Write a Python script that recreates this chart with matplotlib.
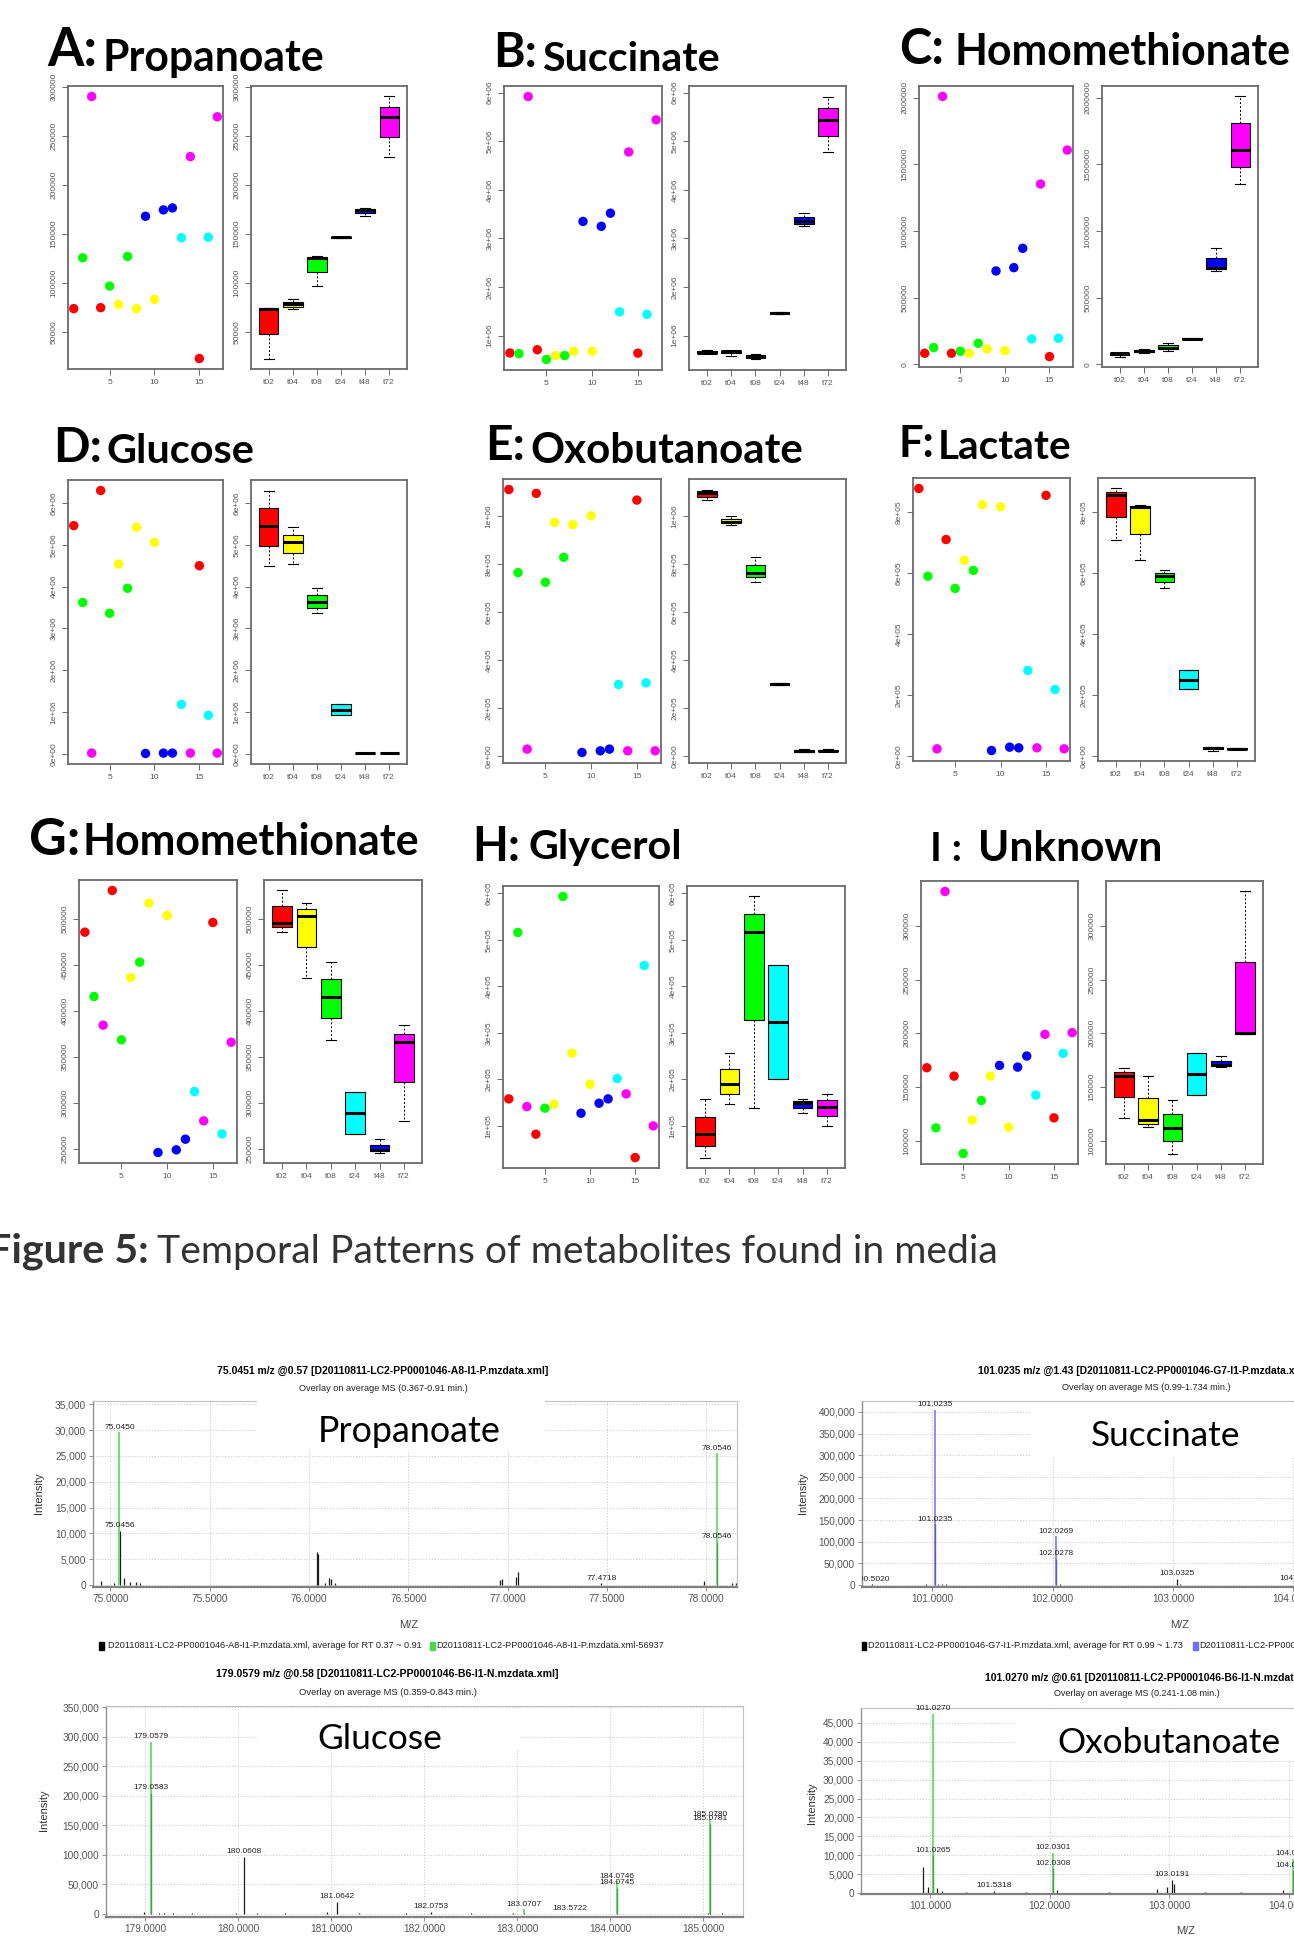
import numpy as np
import matplotlib.pyplot as plt
from matplotlib.patches import Rectangle
from matplotlib.ticker import MultipleLocator, FuncFormatter

W, H = 1294, 1944

plt.rcParams['font.family'] = ['Liberation Sans', 'DejaVu Sans']
TITLE_FONT = ['Lato', 'DejaVu Sans']

# ---------------- temporal pattern panels ----------------
groups = ["t02", "t04", "t08", "t24", "t48", "t72"]
group_colors = ["#FF0000", "#FFFF00", "#00FF00", "#00FFFF", "#0000FF", "#FF00FF"]
# time group of each of the 17 samples (index into groups)
sample_group = [0, 2, 5, 0, 2, 1, 2, 1, 4, 1, 4, 4, 3, 5, 0, 3, 5]
sample_index = list(range(1, 18))

panel_letters = ["A:", "B:", "C:", "D:", "E:", "F:", "G:", "H:", "I :"]
panel_names = ["Propanoate", "Succinate", "Homomethionate", "Glucose", "Oxobutanoate",
               "Lactate", "Homomethionate", "Glycerol", "Unknown"]

propanoate = [73500, 125500, 290500, 74500, 96600, 77900, 126900, 73500, 168000,
              83000, 174500, 176500, 146000, 229000, 22500, 146600, 269700]
succinate = [0.644e6, 0.63e6, 5.92e6, 0.71e6, 0.51e6, 0.59e6, 0.59e6, 0.68e6, 3.35e6,
             0.68e6, 3.25e6, 3.52e6, 1.49e6, 4.78e6, 0.64e6, 1.44e6, 5.44e6]
homomethionate_c = [82500, 125000, 2010000, 82500, 97500, 82500, 157500, 115000, 700000,
                    102500, 725000, 870000, 190000, 1352500, 57500, 195000, 1607500]
glucose = [5.46e6, 3.62e6, 0.015e6, 6.30e6, 3.36e6, 4.54e6, 3.96e6, 5.42e6, 0.005e6,
           5.06e6, 0.015e6, 0.015e6, 1.18e6, 0.015e6, 4.50e6, 0.92e6, 0.015e6]
oxobutanoate = [1.109e6, 0.763e6, 0.028e6, 1.093e6, 0.723e6, 0.972e6, 0.827e6, 0.963e6, 0.014e6,
                1.0e6, 0.021e6, 0.028e6, 0.297e6, 0.021e6, 1.065e6, 0.304e6, 0.021e6]
lactate = [876000, 589000, 24000, 709000, 549000, 641000, 608000, 823000, 18500,
           816000, 29500, 27300, 280500, 27300, 853500, 218300, 24000]
homomethionate_g = [485500, 415700, 384600, 530750, 368700, 436300, 452970, 517000, 246400,
                    503600, 249300, 260850, 312600, 280750, 496000, 266650, 366100]
glycerol = [158000, 515500, 141500, 82100, 138000, 146600, 592800, 256200, 127200,
            189500, 148700, 158000, 201700, 168800, 32000, 444600, 100000]
unknown = [167800, 111800, 332000, 160000, 87900, 119000, 137300, 160000, 170000,
           112400, 168400, 178700, 142300, 198900, 121150, 181200, 200500]

panel_values = [propanoate, succinate, homomethionate_c, glucose, oxobutanoate,
                lactate, homomethionate_g, glycerol, unknown]
tick_steps = [50000, 1e6, 5e5, 1e6, 2e5, 2e5, 50000, 1e5, 50000]
sci_labels = [False, True, False, True, True, True, False, True, False]

# pixel layout (x0, y0, x1, y1)
scatter_boxes = [(68, 86, 223, 369), (504, 86, 662, 370), (919, 86, 1073, 367),
                 (68, 480, 223, 764), (503, 479, 661, 763), (913, 478, 1070, 761),
                 (79, 880, 237, 1163), (503, 886, 659, 1168), (921, 881, 1078, 1164)]
box_boxes = [(251, 86, 407, 369), (689, 86, 846, 370), (1102, 86, 1258, 367),
             (251, 480, 407, 764), (689, 479, 846, 763), (1098, 478, 1255, 761),
             (264, 880, 422, 1163), (687, 886, 845, 1168), (1106, 881, 1263, 1164)]
letter_pos = [(47, 97, 66), (493, 537, 67), (899, 944, 64), (53, 102, 462), (485, 525, 460),
              (899, 935, 457), (29, 80, 855), (472, 520, 861), (930, 962, 861)]
name_pos = [(103, 325, 71), (542, 720, 71), (955, 1292, 65), (106, 254, 463), (530, 803, 463),
            (938, 1072, 459), (83, 421, 855), (528, 682, 859), (978, 1162, 861)]

# ---------------- mass spectra ----------------
prop_avg_mz = [74.95, 75.02, 75.0456, 75.07, 75.10, 75.13, 75.15, 76.040, 76.045, 76.08, 76.10,
               76.11, 76.13, 76.96, 76.97, 77.040, 77.050, 77.4718, 77.99, 78.0546, 78.13, 78.15, 78.17]
prop_avg_int = [800, 300, 10500, 1400, 500, 500, 300, 6400, 6000, 400, 1400,
                1200, 300, 1000, 1200, 1500, 2500, 300, 800, 8400, 300, 300, 200]
prop_eic_mz = [75.0450, 78.0546]
prop_eic_int = [29600, 25500]
prop_lab_mz = [75.0450, 75.0456, 77.4718, 78.0546, 78.0546]
prop_lab_int = [29600, 10500, 300, 25500, 8400]

succ_avg_mz = [100.502, 100.95, 101.0235, 101.05, 101.08, 101.12, 101.3, 101.6, 101.9, 102.0278,
               102.06, 102.15, 102.5, 102.95, 103.0325, 103.06, 103.5, 103.95, 104.0312]
succ_avg_int = [1500, 1200, 140000, 3000, 1500, 2000, 800, 800, 800, 60000,
                3000, 1000, 800, 1000, 13800, 1500, 800, 1000, 3000]
succ_eic_mz = [101.0235, 102.0269]
succ_eic_int = [404600, 112300]
succ_lab_mz = [100.5020, 101.0235, 101.0235, 102.0269, 102.0278, 103.0325, 104.0312]
succ_lab_int = [1500, 404600, 140000, 112300, 60000, 13800, 3000]

gluc_avg_mz = [178.98, 179.0583, 179.15, 179.20, 179.30, 179.50, 179.98, 180.0608, 180.20, 180.50,
               180.95, 181.0642, 181.30, 181.80, 182.0753, 182.50, 182.95, 183.0707, 183.5722,
               184.0745, 184.50, 185.05, 185.0781, 185.20]
gluc_avg_int = [3000, 205000, 1500, 2500, 1500, 1000, 1500, 96900, 1500, 1000,
                3000, 20800, 1500, 1000, 3500, 1000, 1500, 2000, 800,
                44000, 800, 2500, 152000, 1500]
gluc_eic_mz = [179.0579, 183.0707, 184.0746, 185.0780]
gluc_eic_int = [291400, 8000, 55000, 160000]
gluc_lab_mz = [179.0579, 179.0583, 180.0608, 181.0642, 182.0753, 183.0707, 183.5722,
               184.0746, 184.0745, 185.0780, 185.0781]
gluc_lab_int = [291400, 205000, 96900, 20800, 3500, 8000, 800, 55000, 44000, 160000, 152000]

oxo_avg_mz = [100.94, 100.98, 101.0265, 101.06, 101.10, 101.30, 101.5318, 101.80, 102.0308, 102.06,
              102.50, 102.90, 102.98, 103.0191, 103.04, 103.30, 103.60, 103.95, 104.0341]
oxo_avg_int = [7000, 1500, 10000, 1200, 600, 300, 500, 300, 6500, 800,
               300, 1000, 1500, 3400, 2500, 300, 300, 800, 6000]
oxo_eic_mz = [101.0270, 102.0301, 104.0337]
oxo_eic_int = [47400, 10600, 9000]
oxo_lab_mz = [101.0270, 101.0265, 101.5318, 102.0301, 102.0308, 103.0191, 104.0337, 104.0341]
oxo_lab_int = [47400, 10000, 500, 10600, 6500, 3400, 9000, 6000]

spec_names = ["Propanoate", "Succinate", "Glucose", "Oxobutanoate"]
spec_titles = ["75.0451 m/z @0.57 [D20110811-LC2-PP0001046-A8-I1-P.mzdata.xml]",
               "101.0235 m/z @1.43 [D20110811-LC2-PP0001046-G7-I1-P.mzdata.xml]",
               "179.0579 m/z @0.58 [D20110811-LC2-PP0001046-B6-I1-N.mzdata.xml]",
               "101.0270 m/z @0.61 [D20110811-LC2-PP0001046-B6-I1-N.mzdata.xml]"]
spec_subtitles = ["Overlay on average MS (0.367-0.91 min.)", "Overlay on average MS (0.99-1.734 min.)",
                  "Overlay on average MS (0.359-0.843 min.)", "Overlay on average MS (0.241-1.08 min.)"]
spec_colors = ["#4cd44c", "#6f6ff5", "#4cd44c", "#4cd44c"]

spec_rects = [(93, 1401, 737, 1587), (862, 1401, 1340, 1587), (106, 1706, 743, 1917), (861, 1708, 1340, 1894)]
spec_xlims = [(74.912, 78.155), (100.419, 104.386), (178.576, 185.43), (100.424, 104.426)]
spec_ylims = [(-390, 35650), (-4600, 425400), (-5070, 351700), (-265, 48970)]
spec_xstep = [0.5, 1, 1, 1]
spec_ystep = [5000, 50000, 50000, 5000]


fig = plt.figure(figsize=(W / 100, H / 100), dpi=100)
renderer = fig.canvas.get_renderer()


def rect(x0, y0, x1, y1):
    return [x0 / W, 1 - y1 / H, (x1 - x0) / W, (y1 - y0) / H]


def fit_text(s, x0, x1, y, fit=None, va="baseline", **kw):
    # put text at pixel position and scale it so it spans x0..x1
    t = fig.text(x0 / W, 1 - y / H, fit or s, ha="left", va=va, **kw)
    w = t.get_window_extent(renderer).width
    t.set_fontsize(t.get_fontsize() * (x1 - x0) / w)
    t.set_text(s)
    return t


def box_stats(vals):
    # Tukey five numbers like R's boxplot
    v = np.sort(np.asarray(vals, float))
    n = len(v)
    n4 = np.floor((n + 3) / 2) / 2
    d = np.array([1, n4, (n + 1) / 2, n + 1 - n4, n]) - 1
    q = 0.5 * (v[np.floor(d).astype(int)] + v[np.ceil(d).astype(int)])
    iqr = q[3] - q[1]
    inside = v[(v >= q[1] - 1.5 * iqr) & (v <= q[3] + 1.5 * iqr)]
    out = v[(v < q[1] - 1.5 * iqr) | (v > q[3] + 1.5 * iqr)]
    return dict(med=q[2], q1=q[1], q3=q[3], whislo=inside.min(), whishi=inside.max(), fliers=out)


def style_r_axes(ax, sci):
    for s in ax.spines.values():
        s.set_color("#6a6a6a")
        s.set_linewidth(1.3)
    ax.tick_params(direction="out", length=4.5, width=0.7, color="#6a6a6a",
                   labelsize=6, labelcolor="#555555", pad=3)
    ax.tick_params(axis="y", labelrotation=90)
    ax.yaxis.set_major_formatter(FuncFormatter(
        lambda v, p: f"{v:.0e}" if sci else f"{v:.0f}"))


def r_panel(k):
    vals = np.asarray(panel_values[k], float)
    lo, hi = vals.min(), vals.max()
    pad = 0.04 * (hi - lo)
    grp = np.array(sample_group)

    ax1 = fig.add_axes(rect(*scatter_boxes[k]))
    ax1.scatter(sample_index, vals, c=[group_colors[g] for g in sample_group],
                s=46, linewidths=0, zorder=3)
    ax1.set_xlim(1 - 0.64, 17 + 0.64)
    ax1.set_xticks([5, 10, 15])

    ax2 = fig.add_axes(rect(*box_boxes[k]))
    stats = [box_stats(vals[grp == g]) for g in range(len(groups))]
    bp = ax2.bxp(stats, positions=range(1, 7), widths=0.8, capwidths=0.4,
                 patch_artist=True, manage_ticks=False,
                 boxprops=dict(edgecolor="black", linewidth=0.8),
                 medianprops=dict(color="black", linewidth=2.2, solid_capstyle="butt"),
                 whiskerprops=dict(color="black", linewidth=0.7, linestyle=(0, (2, 2))),
                 capprops=dict(color="black", linewidth=0.8))
    for patch, col in zip(bp["boxes"], group_colors):
        patch.set_facecolor(col)
    ax2.set_xlim(0.26, 6.74)
    ax2.set_xticks(range(1, 7))
    ax2.set_xticklabels(groups)

    for ax in (ax1, ax2):
        ax.set_ylim(lo - pad, hi + pad)
        ax.yaxis.set_major_locator(MultipleLocator(tick_steps[k]))
        style_r_axes(ax, sci_labels[k])
        plt.setp(ax.get_yticklabels(), va="center")

    x0, x1, yb = letter_pos[k]
    fit_text(panel_letters[k], x0, x1, yb, family=TITLE_FONT, fontweight="bold", fontsize=30)
    x0, x1, yb = name_pos[k]
    fit_text(panel_names[k], x0, x1, yb, family=TITLE_FONT, fontweight="bold", fontsize=24)


for k in range(9):
    r_panel(k)

# figure caption
fit_text("Figure 5:", -12, 149, 1263, family=TITLE_FONT, fontweight="bold", fontsize=24, color="#333333")
fit_text("Temporal Patterns of metabolites found in media", 157, 999, 1263,
         family=TITLE_FONT, fontsize=24, color="#333333")


def spectrum(k, avg_mz, avg_int, eic_mz, eic_int, lab_mz, lab_int):
    ax = fig.add_axes(rect(*spec_rects[k]))
    ax.vlines(avg_mz, 0, avg_int, color="#1a1a1a", linewidth=0.9, zorder=2)
    ax.vlines(eic_mz, 0, eic_int, color=spec_colors[k], linewidth=1.1, zorder=2.2)
    for m, v in zip(lab_mz, lab_int):
        ax.annotate(f"{m:.4f}", (m, v), xytext=(0, 1.2), textcoords="offset points",
                    ha="center", va="bottom", fontsize=6, color="#222222",
                    clip_on=(k == 1), zorder=3)
    ax.set_xlim(spec_xlims[k])
    ax.set_ylim(spec_ylims[k])
    ax.xaxis.set_major_locator(MultipleLocator(spec_xstep[k]))
    ax.yaxis.set_major_locator(MultipleLocator(spec_ystep[k]))
    ax.xaxis.set_major_formatter(FuncFormatter(lambda v, p: f"{v:.4f}"))
    ax.yaxis.set_major_formatter(FuncFormatter(lambda v, p: f"{v:,.0f}"))
    ax.grid(True, linestyle=(0, (1.5, 2)), color="#c8c8c8", linewidth=0.6, zorder=0.5)
    for side in ("top", "right"):
        ax.spines[side].set_color("#c0c0c0")
        ax.spines[side].set_linewidth(0.8)
    ax.spines["left"].set_color("#909090")
    ax.spines["left"].set_linewidth(1.0)
    ax.spines["bottom"].set_color("#808080")
    ax.spines["bottom"].set_linewidth(1.6)
    ax.tick_params(direction="out", length=3, width=0.6, color="#808080",
                   labelsize=7.3, labelcolor="#555555", pad=2)
    return ax


ax_s1 = spectrum(0, prop_avg_mz, prop_avg_int, prop_eic_mz, prop_eic_int, prop_lab_mz, prop_lab_int)
ax_s2 = spectrum(1, succ_avg_mz, succ_avg_int, succ_eic_mz, succ_eic_int, succ_lab_mz, succ_lab_int)
ax_s3 = spectrum(2, gluc_avg_mz, gluc_avg_int, gluc_eic_mz, gluc_eic_int, gluc_lab_mz, gluc_lab_int)
ax_s4 = spectrum(3, oxo_avg_mz, oxo_avg_int, oxo_eic_mz, oxo_eic_int, oxo_lab_mz, oxo_lab_int)

# white boxes behind the metabolite names
white_boxes = [(257, 1396, 545, 1450), (1031, 1403, 1340, 1457), (257, 1708, 521, 1750), (1015, 1710, 1340, 1760)]
for ax, (x0, y0, x1, y1) in zip([ax_s1, ax_s2, ax_s3, ax_s4], white_boxes):
    ax.add_patch(Rectangle((x0 / W, 1 - y1 / H), (x1 - x0) / W, (y1 - y0) / H,
                           transform=fig.transFigure, facecolor="white", edgecolor="none",
                           zorder=4, clip_on=False))

name_spans = [(318, 501, 1442), (1091, 1241, 1446), (317, 442, 1749), (1057, 1280, 1753)]
for s, (x0, x1, yb) in zip(spec_names, name_spans):
    t = fit_text(s, x0, x1, yb, family=TITLE_FONT, fontsize=20, color="black")
    t.set_zorder(6)

# titles and subtitles of the spectra
title_spans = [(217, 553, 1371, None), (978, 1293, 1371, spec_titles[1][:58]),
               (216, 565, 1674, None), (985, 1294, 1678, spec_titles[3][:56])]
sub_spans = [(299, 470, 1388), (1062, 1233, 1387), (299, 480, 1692), (1054, 1222, 1694)]
for k in range(4):
    x0, x1, yc, fit = title_spans[k]
    fit_text(spec_titles[k], x0, x1, yc, fit=fit, va="center", fontweight="bold", fontsize=6)
    x0, x1, yc = sub_spans[k]
    fit_text(spec_subtitles[k], x0, x1, yc, va="center", fontsize=5, color="#222222")

# axis labels
for x, y in [(39, 1493), (44, 1810), (803, 1493), (812, 1803)]:
    fig.text(x / W, 1 - y / H, "Intensity", rotation=90, ha="center", va="center",
             fontsize=8, color="#333333")
for x, y in [(409, 1625), (1180, 1625), (1186, 1931)]:
    fig.text(x / W, 1 - y / H, "M/Z", ha="center", va="center", fontsize=8, color="#444444")

# legend rows under the top spectra
legend_rows = [
    (99, 108, 425, "D20110811-LC2-PP0001046-A8-I1-P.mzdata.xml, average for RT 0.37 ~ 0.91",
     430, 436, "D20110811-LC2-PP0001046-A8-I1-P.mzdata.xml-56937", spec_colors[0]),
    (862, 868, 1186, "D20110811-LC2-PP0001046-G7-I1-P.mzdata.xml, average for RT 0.99 ~ 1.73",
     1193, 1199, "D20110811-LC2-PP0001046-G7-I1-P.mzdata.xml-55846", spec_colors[1]),
]
for sq1, t0, t1, s1, sq2, t2, s2, col in legend_rows:
    yc = 1646
    fig.patches.append(Rectangle((sq1 / W, 1 - 1650 / H), 4.5 / W, 8 / H, color="black",
                                 transform=fig.transFigure, figure=fig))
    fig.patches.append(Rectangle((sq2 / W, 1 - 1650 / H), 4.5 / W, 8 / H, color=col,
                                 transform=fig.transFigure, figure=fig))
    t = fit_text(s1, t0, t1, yc, va="center", fontsize=5, color="#222222")
    fig.text(t2 / W, 1 - yc / H, s2, ha="left", va="center",
             fontsize=t.get_fontsize(), color="#222222")

fig.savefig("out.png", dpi=100, facecolor="white")
